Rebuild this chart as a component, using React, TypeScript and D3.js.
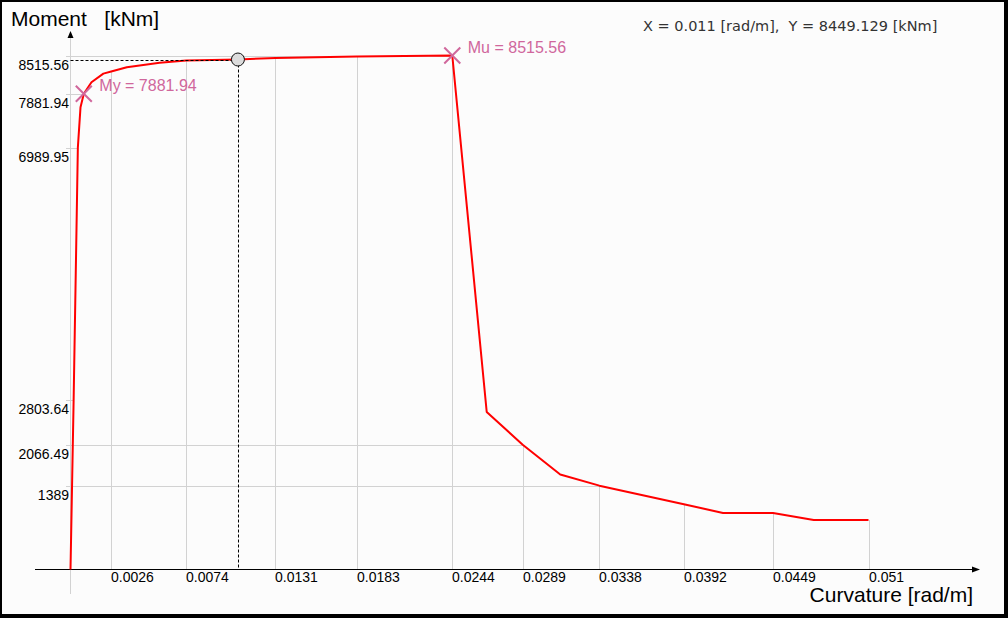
import React from "react";
import * as d3 from "d3";

// Moment–curvature curve
const curvature = [0, 0.0002, 0.00047, 0.00064, 0.00085, 0.00134, 0.0021, 0.0026, 0.0036, 0.0057, 0.0074, 0.0107, 0.0131, 0.0183, 0.0244, 0.0266, 0.0289, 0.0313, 0.0338, 0.0392, 0.0417, 0.0449, 0.0475, 0.051];
const moment = [0, 2803.64, 6989.95, 7660, 7881.94, 8073, 8215, 8250, 8322, 8395, 8433, 8449.129, 8474, 8499, 8515.56, 2609, 2066.49, 1573, 1389, 1081, 937, 937, 821, 821];

// axis ticks
const xTicks = [0.0026, 0.0074, 0.0131, 0.0183, 0.0244, 0.0289, 0.0338, 0.0392, 0.0449, 0.051];
const xTickLabels = ["0.0026", "0.0074", "0.0131", "0.0183", "0.0244", "0.0289", "0.0338", "0.0392", "0.0449", "0.051"];
const yTicks = [1389, 2066.49, 2803.64, 6989.95, 7881.94, 8515.56];
const yTickLabels = ["1389", "2066.49", "2803.64", "6989.95", "7881.94", "8515.56"];
const yTickCurvature = [0.0338, 0.0289, 0.0002, 0.00047, 0.00085, 0.0244];

// special points
const markerNames = ["My", "Mu"];
const markerCurvature = [0.00085, 0.0244];
const markerMoment = [7881.94, 8515.56];

// hover readout
const hoverCurvature = 0.0107;
const hoverMoment = 8449.129;

const W = 1008;
const H = 618;

function momentAt(c: number): number {
  const i = d3.bisectLeft(curvature, c);
  if (i <= 0) return moment[0];
  if (i >= curvature.length) return moment[moment.length - 1];
  const c0 = curvature[i - 1], c1 = curvature[i];
  const m0 = moment[i - 1], m1 = moment[i];
  if (c1 === c) return m1;
  return m0 + ((c - c0) / (c1 - c0)) * (m1 - m0);
}

export default function App() {
  const x = d3.scaleLinear().domain([0, 0.051]).range([70.5, 868.5]);
  const y = d3.scaleLinear().domain([0, 8515.56]).range([569.5, 55.5]);
  const pts = curvature.map((c, i) => [c, moment[i]] as [number, number]);
  const line = d3.line<[number, number]>().x(d => x(d[0])).y(d => y(d[1]));
  const grid = "#d2d2d2";
  const pink = "#d0679c";
  const tickFont = "'Liberation Sans', Arial, sans-serif";
  const hx = x(hoverCurvature);
  const hy = y(hoverMoment);

  return (
    <svg width={W} height={H} style={{ position: "absolute", left: 0, top: 0, display: "block" }}>
      <rect x={0} y={0} width={W} height={H} fill="#000" />
      <rect x={2} y={2} width={1002} height={612} fill="#fcfcfc" />

      {/* vertical drop lines */}
      {xTicks.map((c, i) => (
        <line key={"vx" + i} x1={Math.round(x(c)) + 0.5} x2={Math.round(x(c)) + 0.5}
          y1={y(momentAt(c))} y2={y(0)} stroke={grid} strokeWidth={1} />
      ))}
      {/* horizontal drop lines */}
      {yTicks.map((m, i) => (
        <line key={"hy" + i} x1={66} x2={x(yTickCurvature[i])}
          y1={Math.round(y(m)) + 0.5} y2={Math.round(y(m)) + 0.5} stroke={grid} strokeWidth={1} />
      ))}

      {/* y axis (gray) */}
      <line x1={x(0)} x2={x(0)} y1={34} y2={594} stroke={grid} strokeWidth={1} />
      <path d={`M${x(0) - 3},${38} L${x(0)},${31} L${x(0) + 3},${38} Z`} fill="#000" />
      {/* x axis */}
      <line x1={35} x2={976} y1={y(0)} y2={y(0)} stroke="#000" strokeWidth={1} />
      <path d={`M${972},${y(0) - 3} L${980},${y(0)} L${972},${y(0) + 3} Z`} fill="#000" />

      {/* x tick labels */}
      {xTicks.map((c, i) => (
        <text key={"xt" + i} x={Math.round(x(c))} y={582} fontFamily={tickFont} fontSize={14} fill="#000">
          {xTickLabels[i]}
        </text>
      ))}
      {/* y tick labels */}
      {yTicks.map((m, i) => (
        <text key={"yt" + i} x={69} y={Math.round(y(m)) + 14} textAnchor="end" fontFamily={tickFont} fontSize={14} fill="#000">
          {yTickLabels[i]}
        </text>
      ))}

      {/* curve */}
      <path d={line(pts) || ""} fill="none" stroke="#ff0000" strokeWidth={2} strokeLinejoin="round" />

      {/* hover crosshair */}
      <line x1={x(0)} x2={hx} y1={Math.round(hy) + 0.5} y2={Math.round(hy) + 0.5} stroke="#000" strokeWidth={1} strokeDasharray="3,2" />
      <line x1={Math.round(hx) + 0.5} x2={Math.round(hx) + 0.5} y1={hy} y2={y(0)} stroke="#000" strokeWidth={1} strokeDasharray="3,2" />
      <circle cx={hx} cy={hy} r={6.5} fill="#dcdcdc" stroke="#111" strokeWidth={1} />

      {/* markers */}
      {markerNames.map((n, i) => {
        const mx = x(markerCurvature[i]);
        const my = y(markerMoment[i]);
        const s = 8;
        return (
          <g key={"mk" + i}>
            <path d={`M${mx - s},${my - s} L${mx + s},${my + s} M${mx - s},${my + s} L${mx + s},${my - s}`}
              stroke={pink} strokeWidth={2} fill="none" />
            <text x={mx + 15.5} y={my - 3} fontFamily={tickFont} fontSize={16} fill={pink}>
              {`${n} = ${markerMoment[i].toFixed(2)}`}
            </text>
          </g>
        );
      })}

      {/* titles */}
      <text x={11} y={26} fontFamily={tickFont} fontSize={21} fill="#000" style={{ whiteSpace: "pre" }}>
        {"Moment   [kNm]"}
      </text>
      <text x={973} y={602} textAnchor="end" fontFamily={tickFont} fontSize={21} fill="#000">
        Curvature [rad/m]
      </text>
      <text x={643} y={31} fontFamily="'DejaVu Sans', Verdana, sans-serif" fontSize={14.5} fill="#333" style={{ whiteSpace: "pre" }}>
        {`X = ${hoverCurvature.toFixed(3)} [rad/m],  Y = ${hoverMoment.toFixed(3)} [kNm]`}
      </text>
    </svg>
  );
}
